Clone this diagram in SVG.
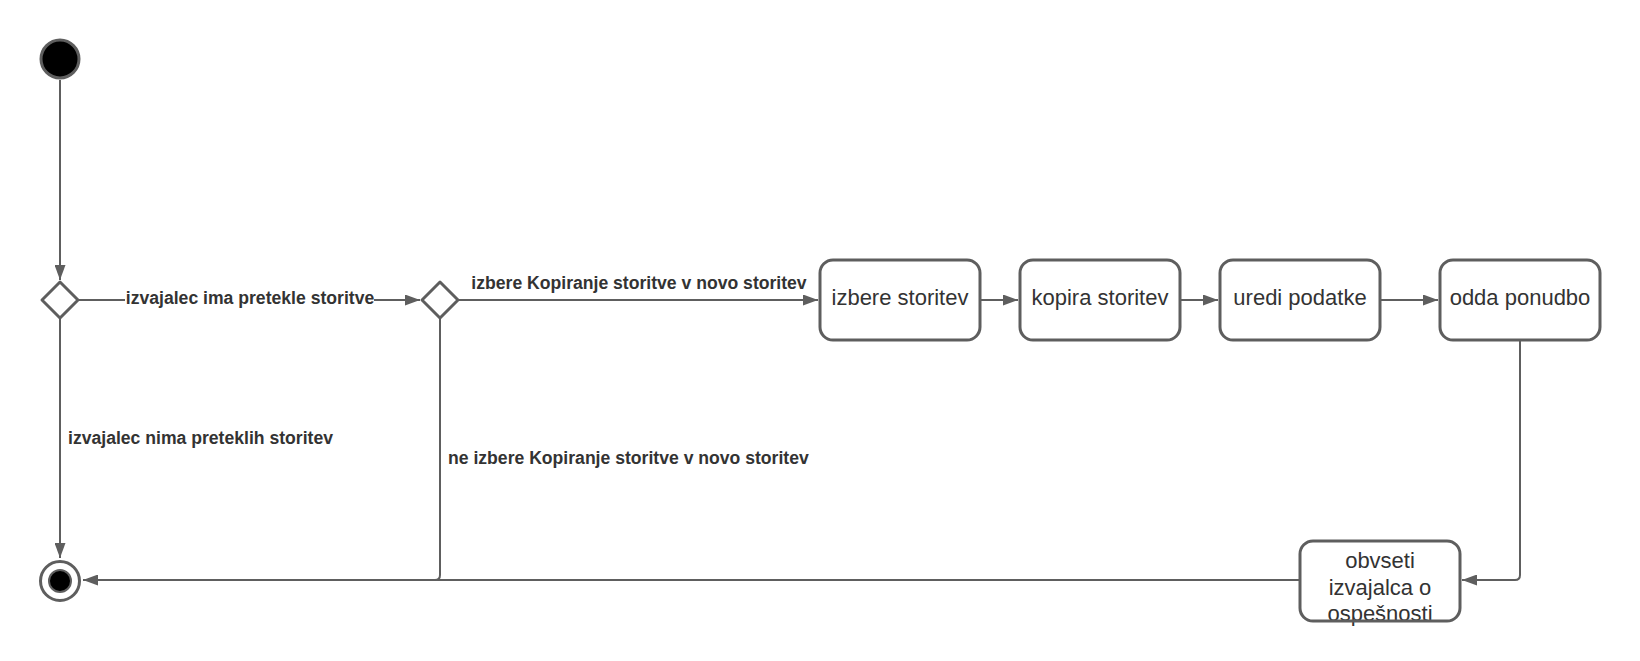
<svg xmlns="http://www.w3.org/2000/svg" width="1640" height="661" viewBox="0 0 1640 661">
<style>
.node{fill:#ffffff;stroke:#5e5e5e;stroke-width:3}
.edge{fill:none;stroke:#5e5e5e;stroke-width:2}
.lbl{font-family:"Liberation Sans",Arial,sans-serif;font-size:17.6px;font-weight:bold;fill:#333333}
.txt{font-family:"Liberation Sans",Arial,sans-serif;font-size:22px;fill:#333333;text-anchor:middle}
</style>
<defs>
<marker id="arr" viewBox="0 0 15 11" refX="15" refY="5.5" markerWidth="15" markerHeight="11" markerUnits="userSpaceOnUse" orient="auto">
<path d="M0,0 L15,5.5 L0,11 z" fill="#5e5e5e"/>
</marker>
</defs>
<rect width="1640" height="661" fill="#ffffff"/>
<g id="connectors">
<path class="edge" d="M60,80 V280" marker-end="url(#arr)"/>
<path class="edge" d="M78,300 H420" marker-end="url(#arr)"/>
<path class="edge" d="M458,300 H818" marker-end="url(#arr)"/>
<path class="edge" d="M980,300 H1018" marker-end="url(#arr)"/>
<path class="edge" d="M1180,300 H1218" marker-end="url(#arr)"/>
<path class="edge" d="M1380,300 H1438" marker-end="url(#arr)"/>
<path class="edge" d="M1520,340 V575 Q1520,580 1515,580 H1462" marker-end="url(#arr)"/>
<path class="edge" d="M60,318 V558" marker-end="url(#arr)"/>
<path class="edge" d="M1300,580 H83" marker-end="url(#arr)"/>
<path class="edge" d="M440,318 V575 Q440,580 435,580"/>
<rect x="125" y="288" width="249" height="22" fill="#ffffff"/>
<text class="lbl" x="250" y="304" text-anchor="middle">izvajalec ima pretekle storitve</text>
<text class="lbl" x="639" y="289" text-anchor="middle">izbere Kopiranje storitve v novo storitev</text>
<text class="lbl" x="68" y="444">izvajalec nima preteklih storitev</text>
<text class="lbl" x="448" y="464">ne izbere Kopiranje storitve v novo storitev</text>
</g>
<g id="start">
<circle cx="60" cy="59" r="19" fill="#000000" stroke="#5e5e5e" stroke-width="3"/>
</g>
<g id="decision1">
<path class="node" d="M60,282 L78,300 L60,318 L42,300 Z" stroke-linejoin="round"/>
</g>
<g id="decision2">
<path class="node" d="M440,282 L458,300 L440,318 L422,300 Z" stroke-linejoin="round"/>
</g>
<g id="izbere">
<rect class="node" x="820" y="260" width="160" height="80" rx="13"/>
<text class="txt" x="900" y="305">izbere storitev</text>
</g>
<g id="kopira">
<rect class="node" x="1020" y="260" width="160" height="80" rx="13"/>
<text class="txt" x="1100" y="305">kopira storitev</text>
</g>
<g id="uredi">
<rect class="node" x="1220" y="260" width="160" height="80" rx="13"/>
<text class="txt" x="1300" y="305">uredi podatke</text>
</g>
<g id="odda">
<rect class="node" x="1440" y="260" width="160" height="80" rx="13"/>
<text class="txt" x="1520" y="305">odda ponudbo</text>
</g>
<g id="obvseti">
<rect x="1300" y="541" width="160" height="80" rx="13" fill="#ffffff"/>
<text class="txt" x="1380" y="568">obvseti</text>
<text class="txt" x="1380" y="595">izvajalca o</text>
<text class="txt" x="1380" y="621">ospešnosti</text>
<rect x="1300" y="541" width="160" height="80" rx="13" fill="none" stroke="#5e5e5e" stroke-width="3"/>
</g>
<g id="end">
<circle cx="60" cy="581" r="19.5" fill="#ffffff" stroke="#5e5e5e" stroke-width="3"/>
<circle cx="60" cy="581" r="11" fill="#000000" stroke="#5e5e5e" stroke-width="2"/>
</g>
</svg>
